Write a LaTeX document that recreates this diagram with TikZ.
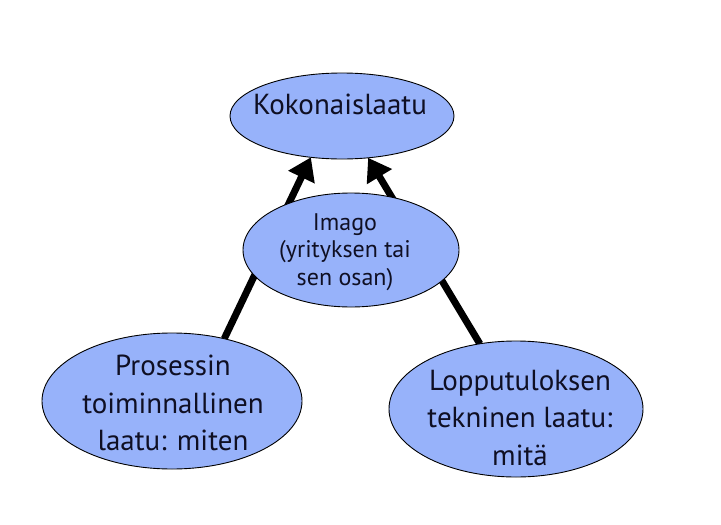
\documentclass[tikz,border=0pt]{standalone}
\usepackage{fontspec}
\setmainfont{PT Sans}
\usetikzlibrary{shapes.geometric,arrows.meta,backgrounds,calc}
\definecolor{elfill}{RGB}{151,178,250}
\definecolor{txtcol}{RGB}{15,15,35}
\begin{document}
\begin{tikzpicture}[x=1pt,y=-1pt,
  el/.style={ellipse,draw=black,line width=0.9pt,fill=elfill,inner sep=0pt,outer sep=0pt},
  bigtxt/.style={align=center,text=txtcol,inner sep=0pt,font=\fontsize{29}{37.5}\selectfont},
  smalltxt/.style={align=center,text=txtcol,inner sep=0pt,font=\fontsize{24}{27.5}\selectfont},
  conn/.style={line width=7pt,-{Triangle[length=22pt,width=28pt]}}]
\useasboundingbox (0,0) rectangle (721,525);
\node[el,minimum width=224pt,minimum height=86pt] (kok) at (342,116) {};
\node[el,minimum width=260pt,minimum height=136pt] (pro) at (172,401) {};
\node[el,minimum width=254pt,minimum height=136pt] (lop) at (516,409) {};
\begin{scope}[on background layer]
  \fill[white] (0,0) rectangle (721,525);
  \draw[conn] (pro.50) -- (kok.233);
  \draw[conn] (lop.119) -- (kok.302);
\end{scope}
\node[el,minimum width=216pt,minimum height=114pt] (ima) at (351,250) {};
\node[bigtxt] (koktxt) at ($(kok.center)+(-2,-12)$) {Kokonaislaatu};
\node[bigtxt] (protxt) at ($(pro.center)+(1,2)$) {Prosessin\\toiminnallinen\\laatu: miten};
\node[bigtxt] (loptxt) at ($(lop.center)+(4,9)$) {Lopputuloksen\\tekninen laatu:\\mitä};
\node[smalltxt] (imatxt) at ($(ima.center)+(-6,2)$) {Imago\\(yrityksen tai\\sen osan)};
\end{tikzpicture}
\end{document}
